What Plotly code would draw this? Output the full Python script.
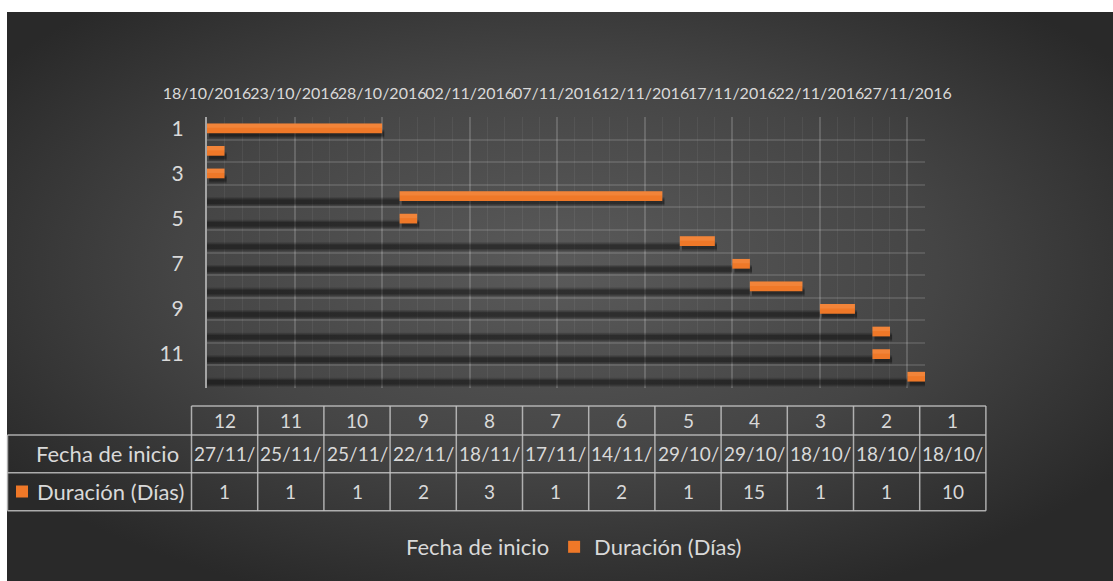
import base64
from datetime import datetime, timedelta
import plotly.graph_objects as go

# ---------------- data ----------------
tasks = [1, 2, 3, 4, 5, 6, 7, 8, 9, 10, 11, 12]
start_dates = ["2016-10-18", "2016-10-18", "2016-10-18", "2016-10-29", "2016-10-29",
               "2016-11-14", "2016-11-17", "2016-11-18", "2016-11-22", "2016-11-25",
               "2016-11-25", "2016-11-27"]
durations = [10, 1, 1, 15, 1, 2, 1, 3, 2, 1, 1, 1]
series_names = ["Fecha de inicio", "Duración (Días)"]
y_tick_labels = [1, 3, 5, 7, 9, 11]
x_range = ["2016-10-18", "2016-11-28"]

# ---------------- style ----------------
W, H = 1113, 581
L, R, T, B = 207, 925, 117, 388
FONT = "Lato"
TXT = "#d9d9d9"
ORANGE = "#EF7828"
DAY = 86400000
BW = 0.43


def px(x):
    return (x - L) / (R - L)


def py(y):
    return (B - y) / (B - T)


dur_ms = [d * DAY for d in durations]
shadow_shift = 0.12 * DAY
shadow_base = [(datetime.strptime(s, "%Y-%m-%d") + timedelta(milliseconds=shadow_shift)).strftime("%Y-%m-%d %H:%M:%S")
               for s in start_dates]

fig = go.Figure()

# shadow layers (offset below each row), for the hidden start series and the duration bars
shadow_layers = [(0.05, 0.39, 0.14), (0.10, 0.30, 0.18), (0.15, 0.20, 0.22)]
for off, w, a in shadow_layers:
    fig.add_trace(go.Bar(y=tasks, x=start_dates, orientation="h", width=w, offset=off,
                         marker=dict(color=f"rgba(0,0,0,{a})", line=dict(width=0)),
                         showlegend=False, hoverinfo="skip"))
for off, w, a in shadow_layers:
    fig.add_trace(go.Bar(y=tasks, x=dur_ms, base=shadow_base, orientation="h", width=w, offset=off,
                         marker=dict(color=f"rgba(0,0,0,{a})", line=dict(width=0)),
                         showlegend=False, hoverinfo="skip"))

# hidden start series
fig.add_trace(go.Bar(name=series_names[0], y=tasks, x=start_dates, orientation="h",
                     width=BW, offset=-BW / 2,
                     marker=dict(color="rgba(0,0,0,0)", line=dict(width=0))))
# duration series
fig.add_trace(go.Bar(name=series_names[1], y=tasks, x=dur_ms, base=start_dates, orientation="h",
                     width=BW, offset=-BW / 2,
                     marker=dict(color=ORANGE, line=dict(width=0))))
# light top half of the duration bars (gradient look)
fig.add_trace(go.Bar(y=tasks, x=dur_ms, base=start_dates, orientation="h",
                     width=BW * 0.45, offset=-BW / 2,
                     marker=dict(color="rgba(255,190,140,0.18)", line=dict(width=0)),
                     showlegend=False, hoverinfo="skip"))

# background radial gradient
svg = ('<svg xmlns="http://www.w3.org/2000/svg" width="1106" height="569" viewBox="0 0 1106 569" '
       'preserveAspectRatio="none"><defs><radialGradient id="g" cx="50%" cy="45%" r="62%">'
       '<stop offset="0" stop-color="#5a5a5a"/><stop offset="0.55" stop-color="#454545"/>'
       '<stop offset="1" stop-color="#292929"/></radialGradient></defs>'
       '<rect width="1106" height="569" fill="url(#g)"/></svg>')
src = "data:image/svg+xml;base64," + base64.b64encode(svg.encode()).decode()

shapes = []
annotations = []
LINE = dict(color="rgba(195,195,195,0.85)", width=1.5)
NUMF = dict(family=FONT, size=19, color=TXT)
LBLF = dict(family=FONT, size=22, color=TXT)

# data table geometry
col0, colw = 191.5, 66.2
rows_y = [406, 435, 472.7, 510.7]
left_x = 7.5
ncol = len(tasks)
right_x = col0 + colw * ncol
shapes.append(dict(type="line", xref="paper", yref="paper", x0=px(col0), x1=px(right_x),
                   y0=py(rows_y[0]), y1=py(rows_y[0]), line=LINE))
for yy in rows_y[1:]:
    shapes.append(dict(type="line", xref="paper", yref="paper", x0=px(left_x), x1=px(right_x),
                       y0=py(yy), y1=py(yy), line=LINE))
for k in range(ncol + 1):
    xx = col0 + colw * k
    shapes.append(dict(type="line", xref="paper", yref="paper", x0=px(xx), x1=px(xx),
                       y0=py(rows_y[0]), y1=py(rows_y[3]), line=LINE))
shapes.append(dict(type="line", xref="paper", yref="paper", x0=px(left_x), x1=px(left_x),
                   y0=py(rows_y[1]), y1=py(rows_y[3]), line=LINE))
shapes.append(dict(type="rect", xref="paper", yref="paper", x0=px(16), x1=px(28),
                   y0=py(497.5), y1=py(485.5), fillcolor=ORANGE, line=dict(width=0)))

rev = list(range(ncol))[::-1]
cy = [(rows_y[i] + rows_y[i + 1]) / 2 for i in range(3)]
for k, idx in enumerate(rev):
    cx = col0 + colw * (k + 0.5)
    sd = datetime.strptime(start_dates[idx], "%Y-%m-%d").strftime("%d/%m/%Y")[:6]
    for txt, yy in ((str(tasks[idx]), cy[0]), (sd, cy[1]), (str(durations[idx]), cy[2])):
        annotations.append(dict(text=txt, xref="paper", yref="paper", x=px(cx), y=py(yy),
                                xanchor="center", yanchor="middle", showarrow=False, font=NUMF))
annotations.append(dict(text=series_names[0], xref="paper", yref="paper", x=px(181), y=py(cy[1]),
                        xanchor="right", yanchor="middle", showarrow=False, font=LBLF))
annotations.append(dict(text=series_names[1], xref="paper", yref="paper", x=px(186), y=py(cy[2]),
                        xanchor="right", yanchor="middle", showarrow=False, font=LBLF))

fig.update_layout(
    width=W, height=H,
    margin=dict(l=L, r=W - R, t=T, b=H - B, autoexpand=False),
    paper_bgcolor="white",
    plot_bgcolor="rgba(0,0,0,0)",
    barmode="overlay",
    font=dict(family=FONT, color=TXT),
    images=[dict(source=src, xref="paper", yref="paper", x=px(7), y=py(12),
                 sizex=(W - 7) / (R - L), sizey=(H - 12) / (B - T),
                 xanchor="left", yanchor="top", sizing="stretch", layer="below")],
    xaxis=dict(type="date", side="top", range=x_range, tickmode="linear",
               tick0=x_range[0], dtick=5 * DAY, tickformat="%d/%m/%Y", tickangle=0,
               tickfont=dict(family=FONT, size=16, color=TXT),
               showgrid=True, gridcolor="rgba(255,255,255,0.17)", gridwidth=1.5,
               minor=dict(dtick=DAY, showgrid=True, gridcolor="rgba(255,255,255,0.06)", gridwidth=1),
               ticks="", ticklabelstandoff=14, showline=False, zeroline=False, fixedrange=True),
    yaxis=dict(range=[12.5, 0.5], tickmode="array", tickvals=y_tick_labels,
               ticktext=[str(v) for v in y_tick_labels],
               tickfont=dict(family=FONT, size=21, color=TXT),
               showgrid=False, zeroline=False, ticks="", ticklabelstandoff=17,
               showline=True, linecolor="rgba(175,175,175,0.9)", linewidth=2,
               minor=dict(tickmode="array", tickvals=[i + 0.5 for i in range(13)],
                          showgrid=True, gridcolor="rgba(255,255,255,0.12)", gridwidth=1.5),
               fixedrange=True),
    legend=dict(orientation="h", x=px(366), y=py(526), xanchor="left", yanchor="top",
                font=LBLF, bgcolor="rgba(0,0,0,0)"),
    shapes=shapes,
    annotations=annotations,
)

fig.write_html("out.html", post_script="document.body.style.margin='0';",
               config={"displayModeBar": False})
